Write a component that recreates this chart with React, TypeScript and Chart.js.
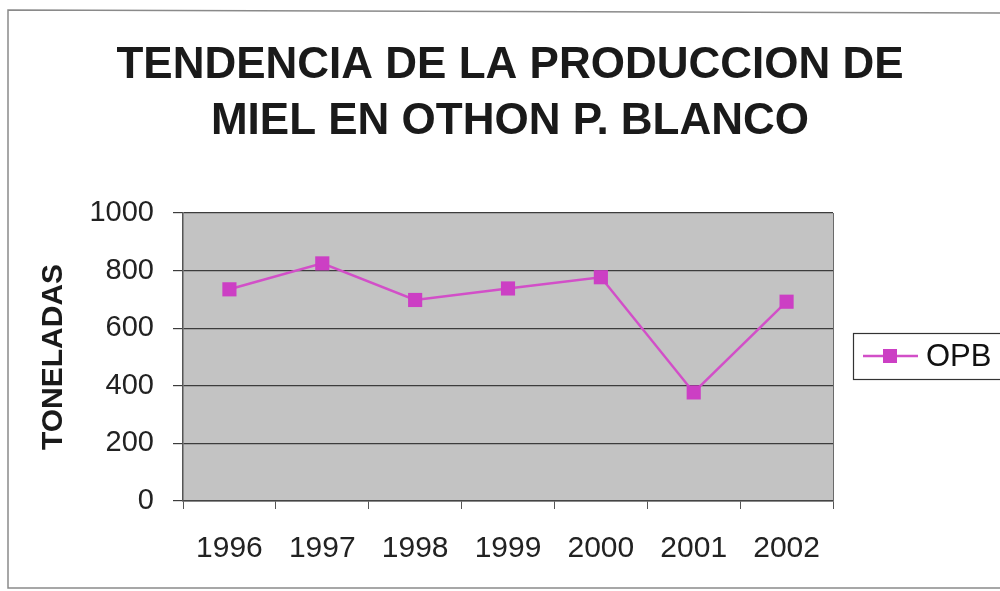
import React, { useEffect, useRef } from "react";
import { Chart, registerables } from "chart.js";

Chart.register(...registerables);

const years = ["1996", "1997", "1998", "1999", "2000", "2001", "2002"];
const opb = [735, 825, 698, 738, 777, 377, 692];
const seriesLabel = "OPB";
const titleLines = ["TENDENCIA DE LA PRODUCCION DE", "MIEL EN OTHON P. BLANCO"];
const yAxisTitle = "TONELADAS";

const FONT = "'Liberation Sans', Arial, sans-serif";
const LINE_COLOR = "#d24fc8";
const MARK_COLOR = "#cc3fc4";

const decorPlugin = {
  id: "decor",
  beforeDraw(chart: any) {
    const { ctx, chartArea } = chart;
    ctx.save();
    ctx.fillStyle = "#ffffff";
    ctx.fillRect(0, 0, chart.width, chart.height);
    // outer frame
    ctx.strokeStyle = "#8a8a8a";
    ctx.lineWidth = 1.5;
    ctx.beginPath();
    ctx.moveTo(1010, 13);
    ctx.lineTo(8, 10);
    ctx.lineTo(8, 588);
    ctx.lineTo(1010, 588);
    ctx.stroke();
    // plot background
    ctx.fillStyle = "#c3c3c3";
    ctx.fillRect(chartArea.left, chartArea.top, chartArea.right - chartArea.left, chartArea.bottom - chartArea.top);
    ctx.restore();
  },
  afterDraw(chart: any) {
    const { ctx, chartArea } = chart;
    ctx.save();
    // plot area right border
    ctx.strokeStyle = "#6a6a6a";
    ctx.lineWidth = 1;
    ctx.beginPath();
    ctx.moveTo(chartArea.right + 0.5, chartArea.top);
    ctx.lineTo(chartArea.right + 0.5, chartArea.bottom);
    ctx.stroke();
    // title
    ctx.fillStyle = "#1a1a1a";
    ctx.font = `bold 44px ${FONT}`;
    ctx.textAlign = "center";
    ctx.textBaseline = "alphabetic";
    ctx.fillText(titleLines[0], 510, 78);
    ctx.fillText(titleLines[1], 510, 134);
    // legend
    const ds = chart.data.datasets[0];
    ctx.strokeStyle = "#333";
    ctx.lineWidth = 1.2;
    ctx.strokeRect(853.5, 333.5, 160, 46);
    ctx.strokeStyle = LINE_COLOR;
    ctx.lineWidth = 2.5;
    ctx.beginPath();
    ctx.moveTo(863, 356);
    ctx.lineTo(918, 356);
    ctx.stroke();
    ctx.fillStyle = MARK_COLOR;
    ctx.fillRect(883, 349, 14, 14);
    ctx.fillStyle = "#111";
    ctx.font = `31px ${FONT}`;
    ctx.textAlign = "left";
    ctx.textBaseline = "middle";
    ctx.fillText(ds.label, 926, 357);
    ctx.restore();
  },
};

export default function App() {
  const ref = useRef<HTMLCanvasElement | null>(null);
  useEffect(() => {
    if (!ref.current) return;
    const chart = new Chart(ref.current, {
      type: "line",
      data: {
        labels: years,
        datasets: [
          {
            label: seriesLabel,
            data: opb,
            borderColor: LINE_COLOR,
            borderWidth: 2.5,
            backgroundColor: MARK_COLOR,
            pointStyle: "rect",
            pointRadius: 10,
            pointBorderWidth: 0,
            pointBackgroundColor: MARK_COLOR,
            tension: 0,
          },
        ],
      },
      options: {
        animation: false,
        responsive: false,
        maintainAspectRatio: false,
        layout: { padding: { left: 0, right: 167, top: 213, bottom: 0 } },
        plugins: {
          legend: { display: false },
          title: { display: false },
          tooltip: { enabled: false },
        },
        scales: {
          x: {
            type: "category",
            offset: true,
            grid: {
              offset: true,
              drawOnChartArea: false,
              drawTicks: true,
              tickLength: 8,
              color: "#555",
            },
            border: { display: true, color: "#444", width: 1.5 },
            ticks: {
              color: "#222",
              font: { family: FONT, size: 30 },
              padding: 22,
              maxRotation: 0,
              autoSkip: false,
            },
            afterFit: (s: any) => {
              s.height = 90;
            },
          },
          y: {
            min: 0,
            max: 1000,
            ticks: {
              stepSize: 200,
              color: "#222",
              font: { family: FONT, size: 29 },
              padding: 19,
              callback: (v: any) => String(v),
            },
            grid: {
              color: "#3c3c3c",
              lineWidth: 1.2,
              drawTicks: true,
              tickLength: 10,
            },
            border: { display: true, color: "#555", width: 1.5 },
            title: {
              display: true,
              text: yAxisTitle,
              color: "#1a1a1a",
              font: { family: FONT, size: 30, weight: "bold" },
              padding: { top: 36, bottom: 0 },
            },
            afterFit: (s: any) => {
              s.width = 183;
            },
          },
        },
      },
      plugins: [decorPlugin],
    });
    return () => chart.destroy();
  }, []);
  return (
    <div style={{ position: "fixed", left: 0, top: 0, width: 1000, height: 591, background: "#fff" }}>
      <canvas ref={ref} width={1000} height={591} style={{ display: "block", width: 1000, height: 591 }} />
    </div>
  );
}
